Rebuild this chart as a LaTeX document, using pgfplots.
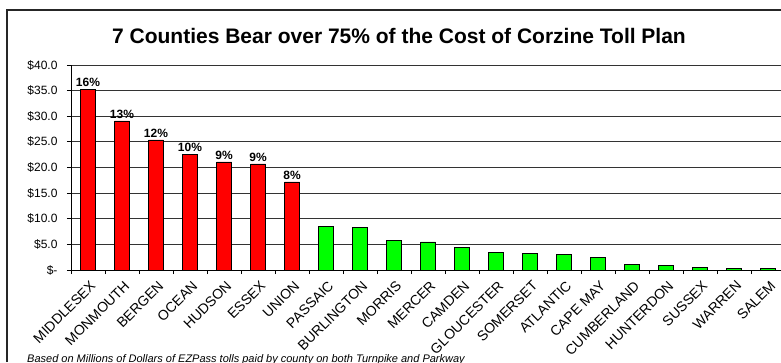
\documentclass[border=0pt]{standalone}
\usepackage{fontspec}
\setmainfont{Liberation Sans}
\usepackage{pgfplots}
\pgfplotsset{compat=1.18}
\definecolor{barred}{RGB}{255,0,0}
\definecolor{bargreen}{RGB}{0,255,0}
\pgfplotstableread{
x val lab
0 35.3 16\%
1 29.1 13\%
2 25.4 12\%
3 22.6 10\%
4 21.1 9\%
5 20.7 9\%
6 17.2 8\%
}\redtab
\pgfplotstableread{
x val
7 8.45
8 8.25
9 5.7
10 5.5
11 4.35
12 3.45
13 3.25
14 3.0
15 2.5
16 1.1
17 0.9
18 0.5
19 0.35
20 0.35
}\greentab
\begin{document}
\begin{tikzpicture}[x=1pt,y=1pt]
\begin{axis}[
  at={(71pt,92pt)}, anchor=south west,
  scale only axis, width=714pt, height=205pt,
  xmin=-0.5, xmax=20.5, ymin=0, ymax=40,
  axis x line=bottom, axis y line=left,
  axis line style={-, black, line width=0.8pt},
  ybar, bar width=15pt,
  xtick={0,...,20},
  xticklabels={MIDDLESEX,MONMOUTH,BERGEN,OCEAN,HUDSON,ESSEX,UNION,PASSAIC,BURLINGTON,MORRIS,MERCER,CAMDEN,GLOUCESTER,SOMERSET,ATLANTIC,CAPE MAY,CUMBERLAND,HUNTERDON,SUSSEX,WARREN,SALEM},
  x tick label style={rotate=45, anchor=north east, font=\fontsize{14}{14}\selectfont, yshift=-4pt, xshift=-2pt, inner sep=1pt},
  major x tick style={draw=none},
  minor xtick={-0.5,0.5,...,20.5},
  minor x tick style={black, line width=0.8pt},
  tick align=outside,
  major tick length=4pt, minor tick length=4pt,
  ytick={0,5,...,40},
  yticklabels={\$-\hspace{17pt},\$5.0,\$10.0,\$15.0,\$20.0,\$25.0,\$30.0,\$35.0,\$40.0},
  y tick label style={font=\fontsize{12}{12}\selectfont, xshift=-6pt},
  y tick style={black, line width=0.8pt},
  ymajorgrids, grid style={black!80, line width=0.9pt},
  /pgf/number format/assume math mode=true,
  clip=false,
]
\addplot[ybar, bar shift=0pt, fill=barred, draw=black, line width=0.6pt,
  nodes near coords, point meta=explicit symbolic,
  every node near coord/.append style={font=\bfseries\fontsize{12}{12}\selectfont, black, yshift=-1pt}]
  table[x=x, y=val, meta=lab] {\redtab};
\addplot[ybar, bar shift=0pt, fill=bargreen, draw=black, line width=0.6pt]
  table[x=x, y=val] {\greentab};
\end{axis}
\draw[black!85, line width=1.5pt] (7,0) -- (7,352) -- (800,352);
\node[font=\bfseries\fontsize{21}{21}\selectfont] at (399,326.5) {7 Counties Bear over 75\% of the Cost of Corzine Toll Plan};
\node[anchor=base west, inner sep=0pt, font=\itshape\fontsize{11}{11}\selectfont] at (27,-0.5) {Based on Millions of Dollars of EZPass tolls paid by county on both Turnpike and Parkway};
\pgfresetboundingbox
\path[use as bounding box] (0,0) rectangle (781,362);
\end{tikzpicture}
\end{document}
